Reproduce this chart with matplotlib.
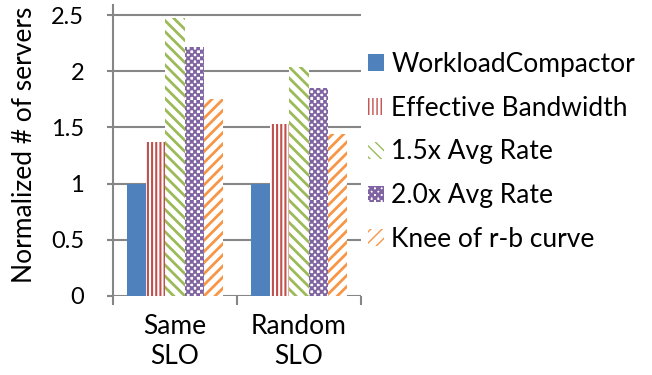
import numpy as np
import matplotlib
matplotlib.use("Agg")
import matplotlib.pyplot as plt
from matplotlib import hatch as mhatch
from matplotlib.path import Path

categories = ["Same\nSLO", "Random\nSLO"]
series_names = ["WorkloadCompactor", "Effective Bandwidth", "1.5x Avg Rate",
                "2.0x Avg Rate", "Knee of r-b curve"]
wc = [1.0, 1.0]
eb = [1.37, 1.53]
avg15 = [2.47, 2.04]
avg20 = [2.22, 1.85]
knee = [1.75, 1.44]
yticks = [0, 0.5, 1, 1.5, 2, 2.5]
ytick_labels = ["0", "0.5", "1", "1.5", "2", "2.5"]


class CheckerHatch(mhatch.HatchPatternBase):
    filled = True

    def __init__(self, hatch, density):
        self.n = int(hatch.count('*') * density)
        cells = [(i, j) for i in range(self.n) for j in range(self.n) if (i + j) % 2 == 0]
        self.cells = cells
        self.num_vertices = len(cells) * 5

    def set_vertices_and_codes(self, vertices, codes):
        s = 1.0 / self.n
        k = 0
        for (i, j) in self.cells:
            x0, y0 = i * s, j * s
            vertices[k:k + 5] = [(x0, y0), (x0 + s, y0), (x0 + s, y0 + s), (x0, y0 + s), (x0, y0)]
            codes[k] = Path.MOVETO
            codes[k + 1:k + 4] = Path.LINETO
            codes[k + 4] = Path.CLOSEPOLY
            k += 5


mhatch._hatch_types = [t for t in mhatch._hatch_types if t is not mhatch.Stars] + [CheckerHatch]

plt.rcParams['font.family'] = ['Lato', 'DejaVu Sans']
fs = 19
fs_tick = 17

fig = plt.figure(figsize=(6.52, 3.75), dpi=100)
ax = fig.add_axes([113 / 652, 1 - 296 / 375, (361 - 113) / 652, (296 - 5) / 375])

colors = ["#4F81BD", "#C0504D", "#9BBB59", "#8064A2", "#F79646"]
hatches = [None, "||||", "\\\\\\", "*****", "///"]
hlw = [1.0, 1.5, 2.0, 0.5, 2.0]
data = [wc, eb, avg15, avg20, knee]

x = np.arange(len(categories)) + 0.5
w = 0.155
handles = []
for k, (vals, c, h, lw) in enumerate(zip(data, colors, hatches, hlw)):
    pos = x + (k - 2) * w
    if h is None:
        bars = ax.bar(pos, vals, w, color=c, linewidth=0, zorder=3, label=series_names[k])
    else:
        bars = ax.bar(pos, vals, w, facecolor="white", edgecolor=c, hatch=h,
                      linewidth=0, zorder=3, label=series_names[k])
        for b in bars:
            if hasattr(b, "set_hatch_linewidth"):
                b.set_hatch_linewidth(lw)
    handles.append(bars)

ax.set_xlim(0, 2)
ax.set_ylim(0, 2.59)
ax.set_yticks(yticks)
ax.set_yticklabels(ytick_labels, fontsize=fs_tick)
ax.set_xticks([0, 1, 2])
ax.set_xticklabels([])
ax.set_xticks(x, minor=True)
ax.set_xticklabels(categories, minor=True, fontsize=fs, linespacing=1.25)
ax.tick_params(axis='x', which='minor', length=0, pad=13)
ax.tick_params(axis='x', which='major', length=6.5, width=1.5, color="#868686", direction='out')
ax.tick_params(axis='y', length=4.3, width=1.5, color="#868686", pad=16.5)
ax.grid(axis='y', color="#868686", linewidth=1.5, zorder=0)
for s in ["top", "right"]:
    ax.spines[s].set_visible(False)
for s in ["left", "bottom"]:
    ax.spines[s].set_color("#868686")
    ax.spines[s].set_linewidth(1.5)
ax.spines["bottom"].set_visible(False)
ax.set_ylabel("Normalized # of servers", fontsize=fs)
ax.yaxis.label.set(va='center', ha='center')
ax.yaxis.set_label_coords((25 - 113) / 248, (296 - 145) / 291)

leg = fig.legend(handles=handles, labels=series_names, loc="upper left",
                 bbox_to_anchor=(368 / 652, 1 - 52 / 375), frameon=False, fontsize=fs,
                 handlelength=0.6, handleheight=0.6, handletextpad=0.28,
                 labelspacing=0.71, borderaxespad=0, borderpad=0)

fig.savefig("out.png", dpi=100)
